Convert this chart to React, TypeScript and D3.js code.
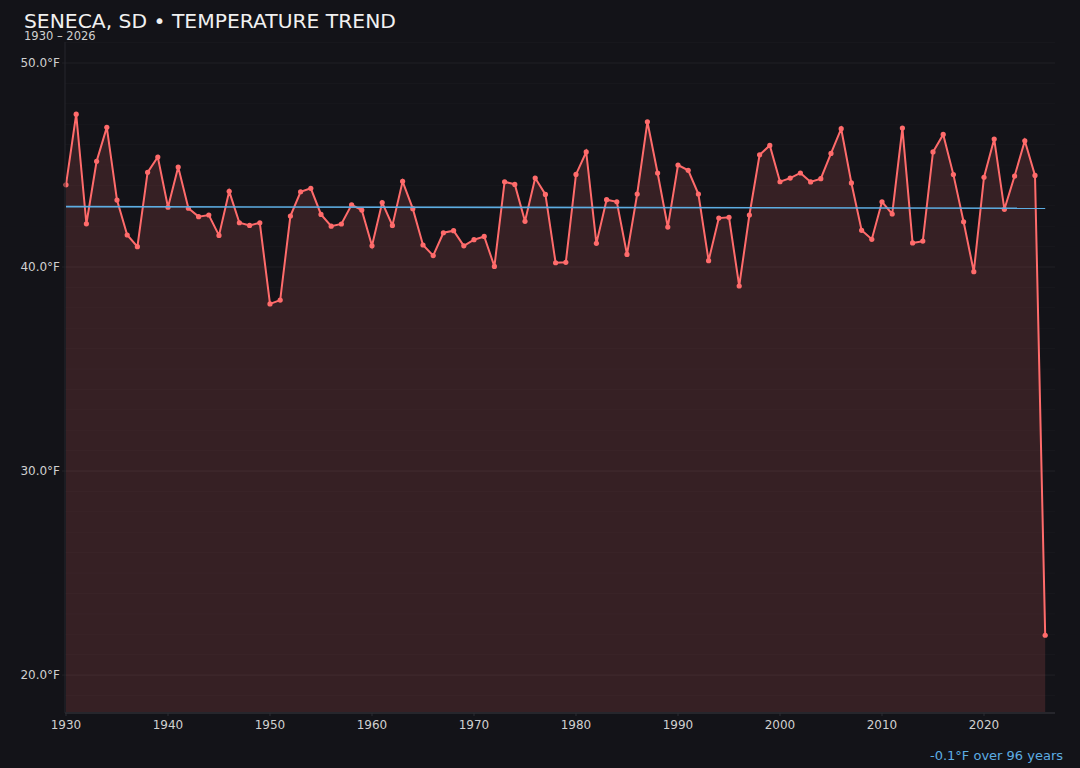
import * as d3 from "d3";

const W = 1080;
const H = 768;

// yearly mean temperature, °F (1930 – 2026)
const years = d3.range(1930, 2027);
const temps = [
  44.03, 47.49, 42.12, 45.18, 46.85, 43.28, 41.57, 41.0, 44.64, 45.39,
  42.93, 44.9, 42.88, 42.47, 42.55, 41.55, 43.71, 42.17, 42.04, 42.17,
  38.19, 38.38, 42.5, 43.69, 43.86, 42.58, 42.0, 42.11, 43.05, 42.79,
  41.04, 43.16, 42.04, 44.2, 42.86, 41.08, 40.56, 41.68, 41.78, 41.04,
  41.34, 41.5, 40.03, 44.18, 44.05, 42.24, 44.36, 43.56, 40.21, 40.23,
  44.54, 45.64, 41.16, 43.3, 43.2, 40.62, 43.58, 47.12, 44.61, 41.96,
  45.0, 44.74, 43.58, 40.31, 42.4, 42.44, 39.07, 42.55, 45.5, 45.96,
  44.18, 44.36, 44.61, 44.17, 44.33, 45.57, 46.78, 44.12, 41.8, 41.36,
  43.2, 42.6, 46.81, 41.18, 41.27, 45.64, 46.5, 44.53, 42.22, 39.77,
  44.4, 46.27, 42.83, 44.46, 46.19, 44.49, 21.95,
];

// trend line end points (first year, last year)
const trendYears = [1930, 2026];
const trendTemps = [42.96, 42.88];

const yTicks = [20, 30, 40, 50];
const xTicks = [1930, 1940, 1950, 1960, 1970, 1980, 1990, 2000, 2010, 2020];

const BG = "#131318";
const RED = "#ff6b6b";
const BLUE = "#5dade2";
const FONT = "DejaVu Sans, sans-serif";

const App = () => {
  const left = 65;
  const right = 1055;
  const top = 42;
  const bottom = 713;

  const x = d3.scaleLinear().domain([1930, 2027]).range([66, 1055.4]);
  const y = d3.scaleLinear().domain([18.14, 51.03]).range([bottom, top]);

  const data = years.map((yr, i) => ({ yr, t: temps[i] }));

  const line = d3
    .line<{ yr: number; t: number }>()
    .x((d) => x(d.yr))
    .y((d) => y(d.t));
  const area = d3
    .area<{ yr: number; t: number }>()
    .x((d) => x(d.yr))
    .y0(bottom)
    .y1((d) => y(d.t));

  const minor = d3.range(19, 52).filter((v) => v % 10 !== 0);

  return (
    <svg
      width={W}
      height={H}
      style={{ position: "fixed", left: 0, top: 0, background: BG }}
      fontFamily={FONT}
    >
      <rect width={W} height={H} fill={BG} />

      {/* grid */}
      {minor.map((v) => (
        <line
          key={"m" + v}
          x1={left}
          x2={right}
          y1={y(v)}
          y2={y(v)}
          stroke="#ffffff"
          strokeOpacity={0.025}
        />
      ))}
      {yTicks.map((v) => (
        <line
          key={"g" + v}
          x1={left - 3}
          x2={right}
          y1={y(v)}
          y2={y(v)}
          stroke="#ffffff"
          strokeOpacity={0.06}
        />
      ))}

      {/* area + line */}
      <path d={area(data) ?? ""} fill={RED} fillOpacity={0.15} />
      <path d={line(data) ?? ""} fill="none" stroke={RED} strokeWidth={2} />
      {data.map((d) => (
        <circle key={d.yr} cx={x(d.yr)} cy={y(d.t)} r={2.6} fill={RED} />
      ))}

      {/* trend */}
      <line
        x1={x(trendYears[0])}
        x2={x(trendYears[1])}
        y1={y(trendTemps[0])}
        y2={y(trendTemps[1])}
        stroke={BLUE}
        strokeWidth={1.6}
      />

      {/* axes */}
      <line x1={left} x2={left} y1={top} y2={bottom} stroke="#26262c" />
      <line x1={left} x2={right} y1={bottom} y2={bottom} stroke="#26262c" strokeWidth={2} />
      {xTicks.map((v) => (
        <g key={"x" + v}>
          <line x1={x(v)} x2={x(v)} y1={bottom} y2={bottom + 3} stroke="#2c2c32" />
          <text
            x={x(v)}
            y={729}
            textAnchor="middle"
            fontSize={12}
            fill="#d0d0d0"
          >
            {v}
          </text>
        </g>
      ))}
      {yTicks.map((v) => (
        <text
          key={"y" + v}
          x={60}
          y={y(v) + 4}
          textAnchor="end"
          fontSize={12}
          fill="#d0d0d0"
        >
          {v.toFixed(1) + "°F"}
        </text>
      ))}

      {/* titles */}
      <text x={24} y={28} fontSize={20.3} fill="#f0f0f0">
        SENECA, SD • TEMPERATURE TREND
      </text>
      <text x={24} y={39.5} fontSize={11.5} fill="#d0d0d0">
        1930 – 2026
      </text>
      <text x={1063} y={760} textAnchor="end" fontSize={13} fill={BLUE}>
        -0.1°F over 96 years
      </text>
    </svg>
  );
};

export default App;
